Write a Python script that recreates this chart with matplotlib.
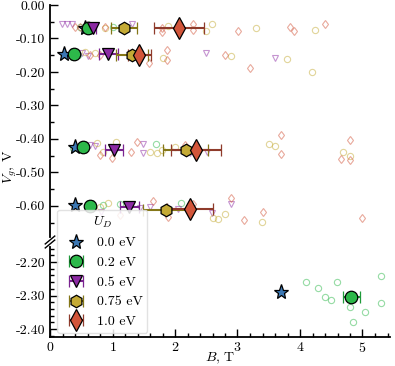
import matplotlib
matplotlib.use("Agg")
import matplotlib.pyplot as plt
from matplotlib.ticker import MultipleLocator, FormatStrFormatter

plt.rcParams['font.family'] = ['cmr10', 'DejaVu Serif']
plt.rcParams['mathtext.fontset'] = 'cm'
plt.rcParams['axes.unicode_minus'] = False
plt.rcParams['axes.formatter.use_mathtext'] = True
plt.rcParams['font.size'] = 10

# ---------------- data ----------------
labels = ["0.0 eV", "0.2 eV", "0.5 eV", "0.75 eV", "1.0 eV"]
markers = ["*", "o", "v", "h", "d"]
face_colors = ["#3c78b4", "#2db84a", "#8c2aa3", "#c4aa35", "#d2553a"]
err_colors = ["#3c78b4", "#1f9a3a", "#7a2390", "#857718", "#8f3b2b"]
sizes = [11, 9, 9, 9, 11]

# averaged points (B, Vg, xerr)
star_B = [0.56, 0.23, 0.40, 0.40, 3.70]
star_V = [-0.068, -0.146, -0.424, -0.597, -2.29]

c02_B = [0.61, 0.38, 0.53, 0.64, 4.82]
c02_V = [-0.068, -0.146, -0.424, -0.600, -2.305]
c02_err = [0.04, 0.04, 0.04, 0.05, 0.14]

t05_B = [0.69, 0.93, 1.02, 1.27]
t05_V = [-0.068, -0.146, -0.433, -0.603]
t05_err = [0.05, 0.15, 0.14, 0.15]

h075_B = [1.18, 1.31, 2.17, 1.86]
h075_V = [-0.068, -0.148, -0.433, -0.612]
h075_err = [0.21, 0.25, 0.36, 0.38]

d10_B = [2.06, 1.43, 2.33, 2.24]
d10_V = [-0.068, -0.148, -0.433, -0.610]
d10_err = [0.40, 0.18, 0.40, 0.37]

# individual runs (open small markers)
s02_B = [0.48, 1.00, 0.45, 0.37, 1.70, 0.85, 1.12, 2.10,
         4.10, 4.29, 4.40, 4.50, 4.59, 4.80, 4.85, 5.04, 5.30, 5.30]
s02_V = [-0.066, -0.065, -0.150, -0.427, -0.415, -0.597, -0.594, -0.591,
         -2.260, -2.278, -2.304, -2.313, -2.260, -2.334, -2.379, -2.349, -2.242, -2.322]

s05_B = [0.19, 0.27, 0.35, 1.31, 2.50, 3.60, 0.51, 0.61,
         0.64, 0.72, 1.49, 1.49, 2.24, 2.51,
         0.82, 1.44, 1.60, 2.90, 2.05, 2.59]
s05_V = [-0.057, -0.057, -0.057, -0.057, -0.143, -0.158, -0.143, -0.152,
         -0.418, -0.421, -0.415, -0.442, -0.442, -0.440,
         -0.618, -0.606, -0.603, -0.594, -0.609, -0.621]

s075_B = [0.88, 1.89, 2.59, 2.50, 3.30, 4.24,
          0.56, 0.72, 1.81, 2.90, 3.79, 4.19,
          0.75, 0.85, 1.06, 1.60, 1.71, 1.79, 2.00, 3.50, 3.60, 4.69, 4.80,
          0.80, 0.93, 2.61, 2.69, 2.80, 3.39]
s075_V = [-0.070, -0.063, -0.057, -0.078, -0.069, -0.075,
          -0.140, -0.143, -0.158, -0.152, -0.161, -0.200,
          -0.412, -0.439, -0.409, -0.439, -0.442, -0.433, -0.424, -0.415, -0.421, -0.439, -0.451,
          -0.603, -0.591, -0.636, -0.639, -0.624, -0.648]

s10_B = [0.40, 0.48, 0.88, 1.79, 1.79, 2.29, 2.29, 3.01, 3.84, 3.90, 4.40,
         0.64, 0.80, 1.58, 1.87, 1.87, 2.80, 3.20,
         0.80, 0.99, 1.30, 1.39, 2.16, 3.70, 3.70, 4.80, 4.66, 4.80,
         1.12, 1.65, 1.89, 2.29, 2.90, 3.10, 3.41, 4.99]
s10_V = [-0.066, -0.066, -0.066, -0.068, -0.081, -0.057, -0.075, -0.078, -0.066, -0.078, -0.057,
         -0.149, -0.149, -0.173, -0.134, -0.164, -0.149, -0.188,
         -0.448, -0.457, -0.439, -0.409, -0.418, -0.388, -0.445, -0.403, -0.460, -0.463,
         -0.627, -0.585, -0.633, -0.594, -0.576, -0.642, -0.618, -0.636]

# ---------------- figure ----------------
fig = plt.figure(figsize=(3.95, 3.66), dpi=100)
L, R = 50 / 395, 390 / 395
ax_t = fig.add_axes([L, 1 - 237 / 366, R - L, (237 - 5) / 366])
ax_b = fig.add_axes([L, 1 - 337 / 366, R - L, (337 - 247) / 366])

top_lim = (-0.693, 0.0)
bot_lim = (-2.424, -2.155)

small_sets = [(s02_B, s02_V, 1, 'o'), (s05_B, s05_V, 2, 'v'),
              (s075_B, s075_V, 3, 'o'), (s10_B, s10_V, 4, 'd')]

handles = []
for ax in (ax_t, ax_b):
    for B, V, ci, mk in small_sets:
        ax.plot(B, V, ls='none', marker=mk, ms=4.5, mfc='none',
                mec=face_colors[ci], mew=0.8, alpha=0.5, zorder=2)

    hs = ax.plot(star_B, star_V, ls='none', marker='*', ms=sizes[0],
                 mfc=face_colors[0], mec='black', mew=0.9, zorder=5)
    h1 = ax.errorbar(c02_B, c02_V, xerr=c02_err, fmt='o', ms=sizes[1],
                     mfc=face_colors[1], mec='black', mew=0.9,
                     ecolor=err_colors[1], elinewidth=1.5, capsize=4, capthick=1.5, zorder=5)
    h2 = ax.errorbar(t05_B, t05_V, xerr=t05_err, fmt='v', ms=sizes[2],
                     mfc=face_colors[2], mec='black', mew=0.9,
                     ecolor=err_colors[2], elinewidth=1.5, capsize=4, capthick=1.5, zorder=5)
    h3 = ax.errorbar(h075_B, h075_V, xerr=h075_err, fmt='h', ms=sizes[3],
                     mfc=face_colors[3], mec='black', mew=0.9,
                     ecolor=err_colors[3], elinewidth=1.5, capsize=4, capthick=1.5, zorder=5)
    h4 = ax.errorbar(d10_B, d10_V, xerr=d10_err, fmt='d', ms=sizes[4],
                     mfc=face_colors[4], mec='black', mew=0.9,
                     ecolor=err_colors[4], elinewidth=1.5, capsize=4, capthick=1.5, zorder=5)
    if ax is ax_t:
        handles = [hs[0], h1, h2, h3, h4]

for ax in (ax_t, ax_b):
    ax.set_xlim(0, 5.44)
    ax.spines['top'].set_visible(False)
    ax.spines['right'].set_visible(False)
    ax.spines['left'].set_linewidth(1.3)
    ax.spines['bottom'].set_linewidth(1.3)
    ax.tick_params(which='both', direction='in', width=1.0, labelsize=10)
    ax.tick_params(which='major', length=6)
    ax.tick_params(which='minor', length=3)
    ax.yaxis.set_major_formatter(FormatStrFormatter('%.2f'))

ax_t.set_ylim(*top_lim)
ax_b.set_ylim(*bot_lim)
ax_t.yaxis.set_major_locator(MultipleLocator(0.1))
ax_t.yaxis.set_minor_locator(MultipleLocator(0.05))
ax_b.yaxis.set_major_locator(MultipleLocator(0.1))
ax_b.yaxis.set_minor_locator(MultipleLocator(0.02))
ax_t.spines['bottom'].set_visible(False)
ax_t.tick_params(axis='x', which='both', bottom=False, labelbottom=False)
ax_b.xaxis.set_major_locator(MultipleLocator(1))
ax_b.xaxis.set_minor_locator(MultipleLocator(0.2))
ax_b.tick_params(axis='x', pad=3)

# break marks
d = 0.012
kw = dict(transform=fig.transFigure, color='k', lw=1.0, clip_on=False)
x0 = L
for yy in (1 - 240 / 366, 1 - 244 / 366):
    fig.add_artist(plt.Line2D([x0 - d, x0 + d], [yy - d * 0.9, yy + d * 0.9], **kw))

fig.text(220 / 395, 1 - 358.5 / 366, '$B$, T', ha='center', va='center', fontsize=10)
fig.text(0.025, 1 - 167 / 366, '$V_g$, V', rotation=90, va='center', ha='center', fontsize=10)

fig.legend(handles, labels, title='$U_D$', loc='lower left',
           bbox_to_anchor=(57 / 395, 1 - 333 / 366), borderaxespad=0, fontsize=10,
           title_fontsize=10, handletextpad=0.5, borderpad=0.35,
           labelspacing=0.5, handlelength=2.0, framealpha=0.85, edgecolor='#dddddd')

fig.savefig('out.png', dpi=100)
